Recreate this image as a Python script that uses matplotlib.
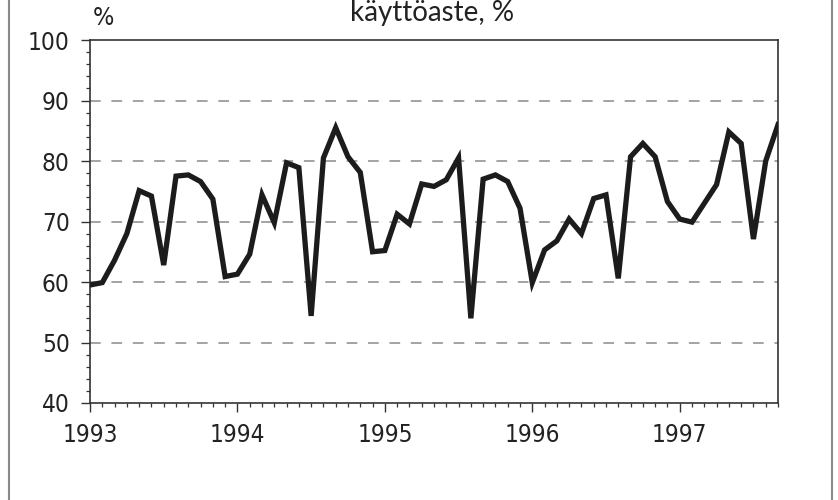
import numpy as np
import matplotlib
matplotlib.use("Agg")
import matplotlib.pyplot as plt
from matplotlib.lines import Line2D
from matplotlib.ticker import MultipleLocator, FixedLocator

# monthly utilisation rate, Jan 1993 .. Sep 1997
years = ["1993", "1994", "1995", "1996", "1997"]
rate = [59.5, 59.9, 63.6, 68.0, 75.1, 74.2, 62.8, 77.5, 77.7, 76.6, 73.7, 60.9,
        61.3, 64.6, 74.4, 69.8, 79.7, 78.9, 54.4, 80.5, 85.5, 80.7, 78.1, 65.0,
        65.2, 71.2, 69.6, 76.2, 75.8, 76.9, 80.5, 54.0, 77.0, 77.7, 76.6, 72.2,
        59.9, 65.3, 66.8, 70.4, 68.0, 73.8, 74.4, 60.6, 80.7, 82.9, 80.7, 73.3,
        70.4, 69.9, 73.0, 76.1, 84.8, 82.9, 67.1, 80.0, 86.0]

plt.rcParams["font.family"] = ["DejaVu Sans"]
plt.rcParams["font.stretch"] = "condensed"

fig = plt.figure(figsize=(8.38, 5.0), dpi=100)
ax = fig.add_axes([90 / 838, 97 / 500, 688 / 838, 363 / 500])

months = np.arange(len(rate))
ax.plot(months, rate, color="#1c1c1c", linewidth=3.8, solid_joinstyle="miter",
        zorder=3)

ax.set_xlim(0, len(rate) - 1)
ax.set_ylim(40, 100)

ax.xaxis.set_major_locator(FixedLocator([12 * i for i in range(len(years))]))
ax.set_xticklabels(years)
ax.xaxis.set_minor_locator(MultipleLocator(1))
ax.yaxis.set_major_locator(MultipleLocator(10))
ax.yaxis.set_minor_locator(MultipleLocator(2))

ax.tick_params(which="major", direction="out", length=6.5, width=1,
               color="#333333", labelsize=17.5, labelcolor="#222222", pad=8)
ax.tick_params(which="minor", direction="out", length=3, width=0.9,
               color="#333333")

for s in ax.spines.values():
    s.set_color("#333333")
    s.set_linewidth(1.2)

for v in [50, 60, 70, 80, 90]:
    ax.axhline(v, color="#8a8a8a", linewidth=1.1, dashes=(7, 7), zorder=1)

fig.text(103 / 838, 1 - 18 / 500, "%", fontsize=18, ha="center", va="center",
         color="#222222")
fig.text(432 / 838, 1 - 21 / 500, "käyttöaste, %", fontsize=20,
         family=["Lato", "DejaVu Sans"], ha="center", va="baseline",
         color="#222222")

# scanned page frame
for xf in [9 / 838, 832 / 838]:
    fig.add_artist(Line2D([xf, xf], [0, 1], transform=fig.transFigure,
                          color="#8a8a8a", linewidth=1.5))

fig.savefig("out.png", dpi=100)
